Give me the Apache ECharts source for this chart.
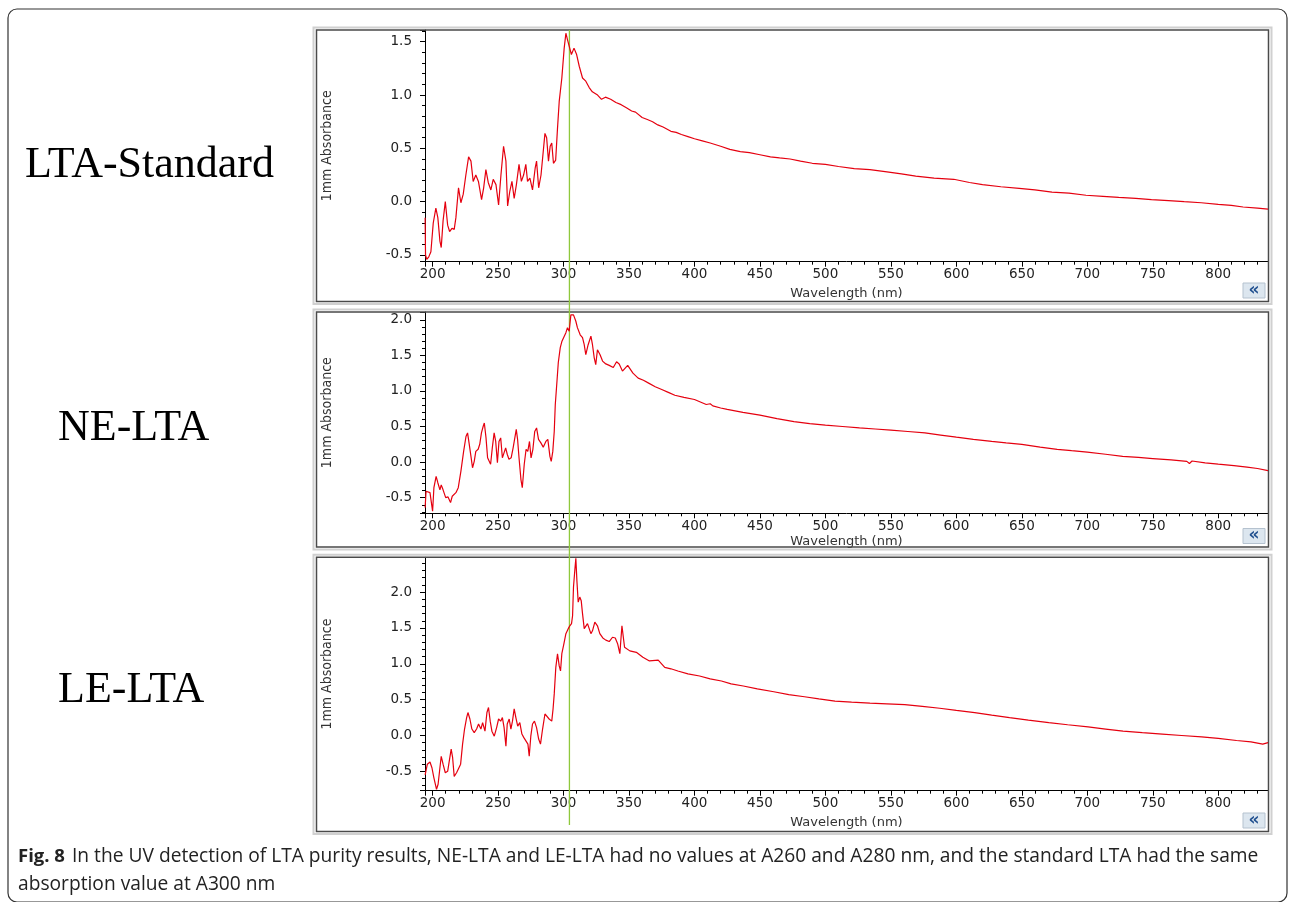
<!DOCTYPE html>
<html><head><meta charset="utf-8">
<script src="https://cdn.jsdelivr.net/npm/echarts@6/dist/echarts.min.js"></script>
<style>html,body{margin:0;padding:0;background:#fff}#c{width:1290px;height:902px}</style>
</head><body><div id="c"></div>
<script>
// ---------- DATA ----------
const panelNames = ['LTA-Standard', 'NE-LTA', 'LE-LTA'];
const cursorNm = 304.5;

const ltaStdNm = [194.3,194.6,195.5,197,198.7,200.5,202.5,204,205.6,206.6,208,209.7,211.5,213,214.8,216.5,217.8,219.8,221.6,223.4,225.4,227.5,229.3,231,233,235,237.4,239,240.7,242.5,244.5,246.3,248.4,250.4,252.2,254.2,256,257.3,259,260.6,262.3,264,266,267.8,269.5,271.2,272.5,274.3,276.3,278.4,279.4,281,282.8,284.5,285.8,287.1,288.5,289.8,291,292.3,294,295.4,296.7,298.7,300.5,301.8,303,304.3,306,308,310,312,314.5,317,319.6,322,326,329,332,336,340,344,348,352,355,360,364,368,372,376,382,386,390,395,400,406,412,420,427,435,442,450,458,465,473,481,490,500,510,522,534,547,558,569,583,598,610,620,634,648,660,673,686,699,712,724,737,749,762,774,787,800,810,819,830,838];
const ltaStdAbs = [-0.15,-0.50,-0.54,-0.52,-0.47,-0.20,-0.06,-0.15,-0.37,-0.43,-0.18,0.00,-0.22,-0.28,-0.25,-0.26,-0.15,0.13,-0.01,0.07,0.25,0.42,0.38,0.19,0.25,0.19,0.02,0.13,0.30,0.18,0.11,0.21,0.16,-0.03,0.25,0.52,0.38,-0.04,0.10,0.19,0.03,0.16,0.35,0.19,0.25,0.35,0.19,0.22,0.11,0.32,0.38,0.13,0.25,0.47,0.64,0.60,0.38,0.52,0.55,0.36,0.39,0.69,0.94,1.16,1.44,1.58,1.52,1.53,1.38,1.44,1.38,1.27,1.16,1.13,1.07,1.03,1.00,0.96,0.98,0.96,0.93,0.91,0.88,0.85,0.84,0.79,0.77,0.75,0.72,0.70,0.66,0.65,0.63,0.61,0.59,0.57,0.55,0.52,0.49,0.47,0.46,0.44,0.42,0.41,0.40,0.38,0.36,0.35,0.33,0.31,0.30,0.28,0.26,0.24,0.22,0.21,0.18,0.16,0.14,0.125,0.11,0.09,0.08,0.06,0.05,0.04,0.03,0.02,0.01,0.00,-0.01,-0.025,-0.035,-0.05,-0.06,-0.07];

const neLtaNm = [194.3,195,196.5,198,200,201,202.7,204,205.6,206.6,208,210,211.8,213.7,215,217.8,219.6,221.6,223.7,225.5,226.7,228,229.3,230.5,231.8,233,234.8,236,237.3,238.6,239.5,240.8,242,243,244.3,245.6,247,248.2,249.5,250.7,252,253.3,254.6,255.8,257,258.3,260,261.5,263.9,264.9,266,267.5,268.5,270,271.4,272.7,274,275.2,276.6,278,279.4,280.9,282.7,284.5,286.5,288,289.6,290.6,291.8,292.9,293.7,295,296,297.5,298.8,300,301.8,303,304.3,305.6,307.6,309.4,310.6,312.7,314.5,315.8,317,318.8,320.9,322.1,323.4,324.6,325.9,327.9,329.8,332.3,334.9,338,340.5,342.5,345,349,353,357,361,365,370,375,380,385,392,400,409,412,414,420,425,437,450,463,476,488,500,513,526,538,550,563,576,588,600,613,627,638,650,664,677,688,700,714,727,739,750,764,776,778,780,790,800,812,822,830,838];
const neLtaAbs = [-0.64,-0.41,-0.40,-0.43,-0.69,-0.36,-0.20,-0.29,-0.39,-0.32,-0.39,-0.50,-0.49,-0.57,-0.48,-0.43,-0.36,-0.13,0.15,0.36,0.41,0.25,0.08,-0.08,0.01,0.15,0.18,0.25,0.41,0.50,0.55,0.34,0.06,0.04,-0.03,0.20,0.41,0.29,-0.01,0.29,0.34,0.06,0.04,0.20,0.11,0.04,0.06,0.20,0.46,0.32,0.06,-0.25,-0.36,-0.03,0.18,0.15,0.29,0.06,0.18,0.43,0.48,0.32,0.27,0.21,0.29,0.32,0.08,0.01,0.15,0.43,0.81,1.14,1.40,1.61,1.70,1.68,1.82,1.89,1.84,2.07,2.07,1.98,1.89,1.79,1.75,1.65,1.51,1.65,1.77,1.65,1.47,1.37,1.58,1.51,1.42,1.38,1.36,1.33,1.41,1.38,1.28,1.36,1.25,1.18,1.15,1.11,1.06,1.02,0.98,0.94,0.91,0.88,0.81,0.82,0.79,0.76,0.74,0.70,0.66,0.61,0.57,0.54,0.52,0.50,0.48,0.465,0.45,0.43,0.41,0.38,0.35,0.32,0.29,0.27,0.25,0.21,0.18,0.16,0.14,0.11,0.08,0.065,0.05,0.03,0.01,-0.02,0.015,-0.01,-0.03,-0.05,-0.07,-0.09,-0.12];

const leLtaNm = [194.3,196,198,199.5,201,203,204.2,205.6,206.6,208,209.7,211.5,212.7,214.2,215.3,216.5,218.3,219.8,221.4,222.9,224.4,226,227,228.5,230,231.8,233.6,235.1,236.9,238.2,240,241.5,242.7,244,245.3,247.1,248.9,250.4,252,253.3,254.6,256,257,258.5,259.8,261,262.3,263.6,265,266.6,268.2,269.7,271.2,272.8,273.8,275,276.3,277.8,279.4,281,282.4,284,285.8,287.3,289,291,292,292.9,294.1,295.4,296.7,297.7,298.7,300.3,301.8,303.6,304.8,306.1,306.9,307.6,308.6,309.4,310.2,311.2,312.4,313.5,314.5,315.8,317,318.3,319.6,320.9,322.1,323.9,325.9,327.7,330,332.3,334.9,337.4,339.5,341.3,343,344.6,346.6,350.6,355.6,360.6,365.6,372.3,377.3,382,387.3,395,403.9,412,420.6,428,437.3,448,460.6,472,484,495,507.3,520,534,547,560.6,574,587.3,600,614,627,640.6,655,670.6,685,700.6,714,727.3,742,757.3,772,787.3,800,814,825,834,838];
const leLtaAbs = [-0.55,-0.40,-0.37,-0.45,-0.59,-0.75,-0.68,-0.45,-0.29,-0.40,-0.52,-0.50,-0.36,-0.19,-0.31,-0.57,-0.52,-0.54,-0.40,-0.12,0.09,0.25,0.32,0.23,0.09,0.04,0.09,0.16,0.09,0.18,0.06,0.32,0.39,0.20,0.06,-0.01,0.11,0.23,0.20,0.25,0.11,-0.15,0.16,0.23,0.09,0.20,0.37,0.25,0.13,0.18,0.02,-0.03,-0.05,-0.12,-0.29,-0.01,0.16,0.20,0.11,-0.05,-0.12,0.09,0.30,0.30,0.23,0.20,0.37,0.58,0.95,1.14,0.97,0.90,1.14,1.28,1.42,1.49,1.53,1.56,1.67,2.07,2.30,2.47,2.16,1.86,1.93,1.88,1.70,1.49,1.49,1.56,1.58,1.42,1.46,1.58,1.53,1.42,1.36,1.33,1.31,1.37,1.36,1.28,1.14,1.53,1.23,1.18,1.16,1.09,1.04,1.05,0.95,0.93,0.90,0.86,0.83,0.79,0.76,0.72,0.69,0.65,0.61,0.57,0.54,0.51,0.48,0.465,0.45,0.44,0.43,0.405,0.38,0.35,0.32,0.285,0.25,0.215,0.18,0.15,0.12,0.09,0.06,0.04,0.02,0.00,-0.02,-0.04,-0.07,-0.09,-0.12,-0.10];

const xMin = 194.2, xMax = 838;
const yRanges = [[-0.563, 1.61], [-0.72, 2.11], [-0.77, 2.485]];
const xAxisTitle = 'Wavelength (nm)';
const yAxisTitle = '1mm Absorbance';
const captionBold = 'Fig. 8';
const captionLine1 = 'In the UV detection of LTA purity results, NE-LTA and LE-LTA had no values at A260 and A280 nm, and the standard LTA had the same';
const captionLine2 = 'absorption value at A300 nm';

// ---------- LAYOUT ----------
const seriesNm = [ltaStdNm, neLtaNm, leLtaNm];
const seriesAbs = [ltaStdAbs, neLtaAbs, leLtaAbs];
const layout = [
  {top: 30, height: 231.7, nameGap: 25, frameTop: 30, frameBottom: 301.5, labelY: 165},
  {top: 312, height: 201.3, nameGap: 22, frameTop: 312, frameBottom: 547, labelY: 428},
  {top: 557.3, height: 233.4, nameGap: 25, frameTop: 557.3, frameBottom: 831.5, labelY: 690}
];
const gridLeft = 425, gridWidth = 843;
const tickFont = {fontFamily: 'DejaVu Sans', fontSize: 13.5, color: '#222'};

const grids = [], xAxes = [], yAxes = [], series = [], graphics = [];
layout.forEach((L, i) => {
  grids.push({left: gridLeft, top: L.top, width: gridWidth, height: L.height, containLabel: false});
  xAxes.push({
    type: 'value', gridIndex: i, min: xMin, max: xMax, splitNumber: 13,
    axisLine: {show: true, onZero: false, lineStyle: {color: '#000', width: 1}},
    axisTick: {show: true, inside: false, length: 5, lineStyle: {color: '#000'}},
    minorTick: {show: true, splitNumber: 5, length: 3, lineStyle: {color: '#000'}},
    splitLine: {show: false},
    axisLabel: Object.assign({margin: 6, formatter: v => Math.abs(v / 50 - Math.round(v / 50)) < 1e-6 ? String(Math.round(v)) : ''}, tickFont),
    name: xAxisTitle, nameLocation: 'middle', nameGap: L.nameGap,
    nameTextStyle: {fontFamily: 'DejaVu Sans', fontSize: 13, color: '#333'}
  });
  yAxes.push({
    type: 'value', gridIndex: i, min: yRanges[i][0], max: yRanges[i][1],
    axisLine: {show: true, onZero: false, lineStyle: {color: '#000', width: 1}},
    axisTick: {show: true, inside: false, length: 5, lineStyle: {color: '#000'}},
    minorTick: {show: true, splitNumber: 5, length: 3, lineStyle: {color: '#000'}},
    splitLine: {show: false},
    axisLabel: Object.assign({margin: 13, formatter: v => Math.abs(v * 2 - Math.round(v * 2)) < 1e-6 ? (Math.round(v * 2) / 2).toFixed(1) : ''}, tickFont),
    name: yAxisTitle, nameLocation: 'middle', nameGap: 91, nameRotate: 90,
    nameTextStyle: {fontFamily: "'Liberation Sans Narrow', 'DejaVu Sans Condensed', 'Liberation Sans', sans-serif", fontSize: 14, color: '#333'}
  });
  series.push({
    type: 'line', xAxisIndex: i, yAxisIndex: i, showSymbol: false, symbol: 'none',
    data: seriesNm[i].map((x, k) => [x, seriesAbs[i][k]]),
    lineStyle: {color: '#e5000f', width: 1.2}, z: 3, animation: false
  });
  // panel frames
  graphics.push({type: 'rect', shape: {x: 313.5, y: L.frameTop - 2.5, width: 958, height: L.frameBottom - L.frameTop + 5}, style: {fill: 'none', stroke: '#d0d0d0', lineWidth: 2}, z: 1});
  graphics.push({type: 'rect', shape: {x: 316.5, y: L.frameTop, width: gridLeft + gridWidth - 316.5 + 0.5, height: L.frameBottom - L.frameTop}, style: {fill: 'none', stroke: '#4a4a4a', lineWidth: 1.5}, z: 1});
  // "<<" button
  graphics.push({type: 'rect', shape: {x: 1243, y: L.frameBottom - 18.5, width: 22, height: 15}, style: {fill: '#dce6ef', stroke: '#b5c2cf', lineWidth: 1}, z: 5});
  graphics.push({type: 'text', x: 1254, y: L.frameBottom - 11, style: {text: '\u00AB', fill: '#1f4f8f', font: 'bold 17px DejaVu Sans', textAlign: 'center', textVerticalAlign: 'middle', align: 'center', verticalAlign: 'middle'}, z: 6});
  // panel name
  graphics.push({type: 'text', x: i === 0 ? 25 : 58, y: L.labelY, style: {text: panelNames[i], fill: '#000', font: '44px "Liberation Serif"', textAlign: 'left', textVerticalAlign: 'middle', align: 'left', verticalAlign: 'middle'}});
});

// overlay grid for the green cursor line crossing all panels
grids.push({left: gridLeft, top: 30, width: gridWidth, height: 795});
xAxes.push({type: 'value', gridIndex: 3, min: xMin, max: xMax, show: false});
yAxes.push({type: 'value', gridIndex: 3, min: 0, max: 1, show: false});
series.push({type: 'line', xAxisIndex: 3, yAxisIndex: 3, symbol: 'none', data: [[cursorNm, 0], [cursorNm, 1]], lineStyle: {color: '#8fc83c', width: 1.3}, z: 2, animation: false});

// outer box and caption
graphics.push({type: 'rect', shape: {x: 8, y: 9, width: 1279, height: 893, r: 9}, style: {fill: 'none', stroke: '#333', lineWidth: 1.2}});
graphics.push({type: 'text', x: 18, y: 857, style: {text: captionBold, fill: '#222', font: 'bold 18.5px "Open Sans"', textAlign: 'left', textVerticalAlign: 'middle', align: 'left', verticalAlign: 'middle'}});
graphics.push({type: 'text', x: 72, y: 857, style: {text: captionLine1, fill: '#222', font: '19.2px "Open Sans"', textAlign: 'left', textVerticalAlign: 'middle', align: 'left', verticalAlign: 'middle'}});
graphics.push({type: 'text', x: 18, y: 885, style: {text: captionLine2, fill: '#222', font: '19.2px "Open Sans"', textAlign: 'left', textVerticalAlign: 'middle', align: 'left', verticalAlign: 'middle'}});

const chart = echarts.init(document.getElementById('c'), null, {renderer: 'canvas'});
chart.setOption({
  backgroundColor: '#fff', animation: false,
  grid: grids, xAxis: xAxes, yAxis: yAxes, series: series,
  graphic: {elements: graphics}
});
</script></body></html>
